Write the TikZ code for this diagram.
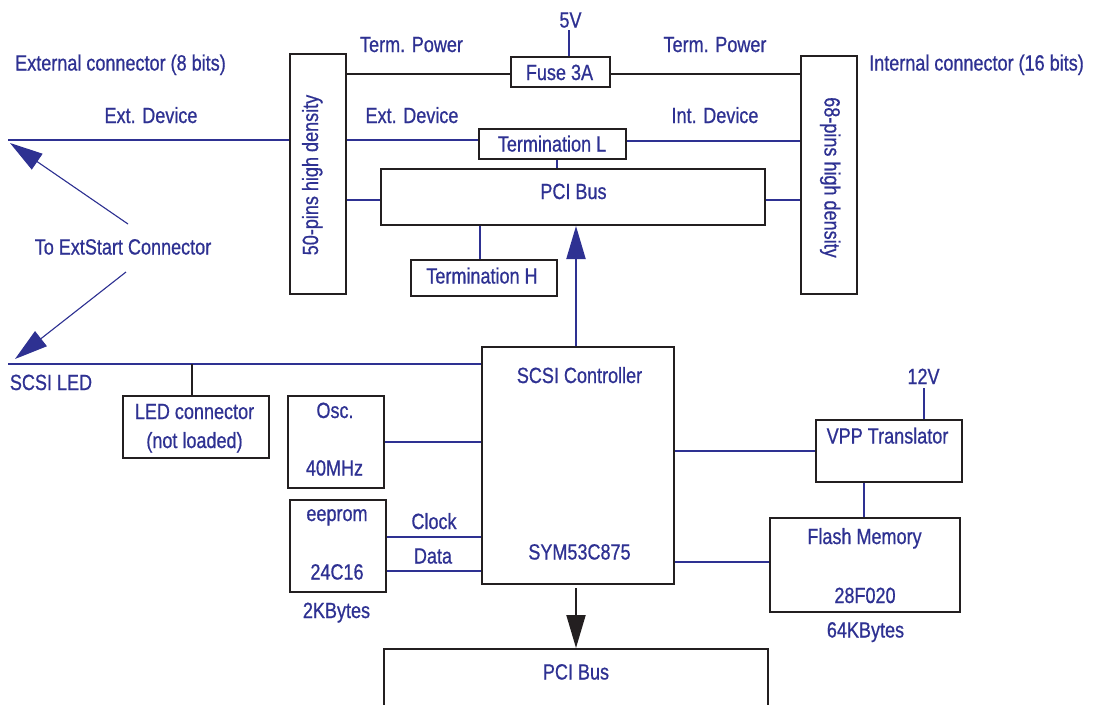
\documentclass[tikz,border=0pt]{standalone}
\usepackage{fontspec}
\setmainfont{Liberation Sans}[FakeStretch=0.82,FakeBold=0.7]
\usetikzlibrary{arrows.meta}
\definecolor{dblue}{RGB}{46,49,146}
\definecolor{dblack}{RGB}{35,31,32}
\begin{document}
\begin{tikzpicture}[x=1pt,y=-1pt,
  box/.style={draw=dblack, line width=2pt, inner sep=0pt},
  txt/.style={text=dblue, font=\fontsize{22}{26}\selectfont, inner sep=0pt, text height=16pt, text depth=0pt},
  bl/.style={draw=dblue, line width=2pt},
  blt/.style={draw=dblue, line width=1.1pt},
  bk/.style={draw=dblack, line width=2pt},
  bigtip/.style={-{Triangle[length=33pt,width=19pt]}},
]
\clip (0,0) rectangle (1094,704);
\fill[white] (0,0) rectangle (1094,704);

% ---------- boxes ----------
\node[box, minimum width=56pt, minimum height=240pt] (p50) at (318,174) {};
\node[box, minimum width=56pt, minimum height=238pt] (p68) at (829,175) {};
\node[box, minimum width=99pt, minimum height=30pt] (fuse) at (560.5,72) {};
\node[box, minimum width=147pt, minimum height=30pt] (termL) at (552.5,144) {};
\node[box, minimum width=384pt, minimum height=56pt] (pcitop) at (573,197) {};
\node[box, minimum width=146pt, minimum height=36pt] (termH) at (484,278) {};
\node[box, minimum width=146pt, minimum height=62pt] (led) at (196,427) {};
\node[box, minimum width=96pt, minimum height=92pt] (osc) at (336,442) {};
\node[box, minimum width=96pt, minimum height=92pt] (eeprom) at (338,546) {};
\node[box, minimum width=192pt, minimum height=237pt] (scsi) at (578,465.5) {};
\node[box, minimum width=146pt, minimum height=62pt] (vpp) at (889,451) {};
\node[box, minimum width=190pt, minimum height=94pt] (flash) at (865,565) {};
\node[box, minimum width=384pt, minimum height=111pt] (pcibot) at (576,704.5) {};

% ---------- texts ----------
\node[txt] (extcon) at (120.5,62.5) {External connector (8 bits)};
\node[txt] (intcon) at (976.5,62.5) {Internal connector (16 bits)};
\node[txt] (extdevL) at (151,115) {Ext. Device};
\node[txt] (extdevM) at (412,115) {Ext. Device};
\node[txt] (intdev) at (715,115) {Int. Device};
\node[txt] (tpL) at (411.5,44) {Term. Power};
\node[txt] (tpR) at (715,44) {Term. Power};
\node[txt] (v5) at (570.5,19.5) {5V};
\node[txt] (fuset) at (559.5,72) {Fuse 3A};
\node[txt] (termLt) at (552,143.5) {Termination L};
\node[txt] (pcitopt) at (573.5,191) {PCI Bus};
\node[txt] (termHt) at (482,275.5) {Termination H};
\node[txt, rotate=90] (p50t) at (310,175) {50-pins high density};
\node[txt, rotate=-90] (p68t) at (832.5,177.5) {68-pins high density};
\node[txt] (toext) at (123,246.5) {To ExtStart Connector};
\node[txt] (scsiled) at (51,382) {SCSI LED};
\node[txt] (ledt1) at (194.5,411) {LED connector};
\node[txt] (ledt2) at (194.5,440) {(not loaded)};
\node[txt] (osct1) at (335,410) {Osc.};
\node[txt] (osct2) at (334.5,467.5) {40MHz};
\node[txt] (eet1) at (337,513) {eeprom};
\node[txt] (eet2) at (337,571.5) {24C16};
\node[txt] (eet3) at (336.5,610) {2KBytes};
\node[txt] (clockt) at (434,521) {Clock};
\node[txt] (datat) at (433,555.5) {Data};
\node[txt] (scsit1) at (579.5,375) {SCSI Controller};
\node[txt] (scsit2) at (579.5,551.5) {SYM53C875};
\node[txt] (v12) at (923.5,376) {12V};
\node[txt] (vppt) at (887.5,435.5) {VPP Translator};
\node[txt] (flasht1) at (864.5,536) {Flash Memory};
\node[txt] (flasht2) at (865,595) {28F020};
\node[txt] (flasht3) at (865.5,629.5) {64KBytes};
\node[txt] (pcibott) at (576,671.5) {PCI Bus};

% ---------- helper coordinates ----------
\coordinate (y74) at (0,74);
\coordinate (y140) at (0,140);
\coordinate (y141) at (0,141);
\coordinate (y200) at (0,200);
\coordinate (y537) at (0,537);
\coordinate (y571) at (0,571);
\coordinate (y562) at (0,562);
\coordinate (x480) at (480,0);
\coordinate (x557) at (557,0);
\coordinate (x576) at (576,0);
\coordinate (x192) at (192,0);
\coordinate (x569) at (569,0);
\coordinate (x924) at (924,0);
\coordinate (x864) at (864,0);
\coordinate (extL) at (8,140);
\coordinate (ledL) at (8,364);
\coordinate (a1s) at (128,224);
\coordinate (a1e) at (10,143);
\coordinate (a2s) at (126,272);
\coordinate (a2e) at (15,359);
\coordinate (v5b) at (569,30);
\coordinate (v12b) at (924,388);

% ---------- connectors ----------
\draw[bl] (v5b) -- (fuse.north -| x569);
\draw[bk] (p50.east |- y74) -- (fuse.west |- y74);
\draw[bk] (fuse.east |- y74) -- (p68.west |- y74);
\draw[bl] (extL) -- (p50.west |- extL);
\draw[bl] (p50.east |- y140) -- (termL.west |- y140);
\draw[blt] (termL.east |- y141) -- (p68.west |- y141);
\draw[bl] (termL.south -| x557) -- (pcitop.north -| x557);
\draw[bl] (p50.east |- y200) -- (pcitop.west |- y200);
\draw[bl] (pcitop.east |- y200) -- (p68.west |- y200);
\draw[bl] (pcitop.south -| x480) -- (termH.north -| x480);
\draw[bl, bigtip, fill=dblue] (scsi.north -| x576) -- (pcitop.south -| x576);
\draw[blt, bigtip, fill=dblue] (a1s) -- (a1e);
\draw[blt, bigtip, fill=dblue] (a2s) -- (a2e);
\draw[bl] (ledL) -- (scsi.west |- ledL);
\draw[bk] (ledL -| x192) -- (led.north -| x192);
\draw[bl] (osc.east) -- (scsi.west |- osc.east);
\draw[bl] (eeprom.east |- y537) -- (scsi.west |- y537);
\draw[bl] (eeprom.east |- y571) -- (scsi.west |- y571);
\draw[bl] (scsi.east |- vpp.west) -- (vpp.west);
\draw[bl] (scsi.east |- y562) -- (flash.west |- y562);
\draw[bl] (v12b) -- (vpp.north -| x924);
\draw[bl] (vpp.south -| x864) -- (flash.north -| x864);
\draw[bk, bigtip, fill=dblack, shorten <=3pt] (scsi.south -| x576) -- (pcibot.north -| x576);
\end{tikzpicture}
\end{document}
